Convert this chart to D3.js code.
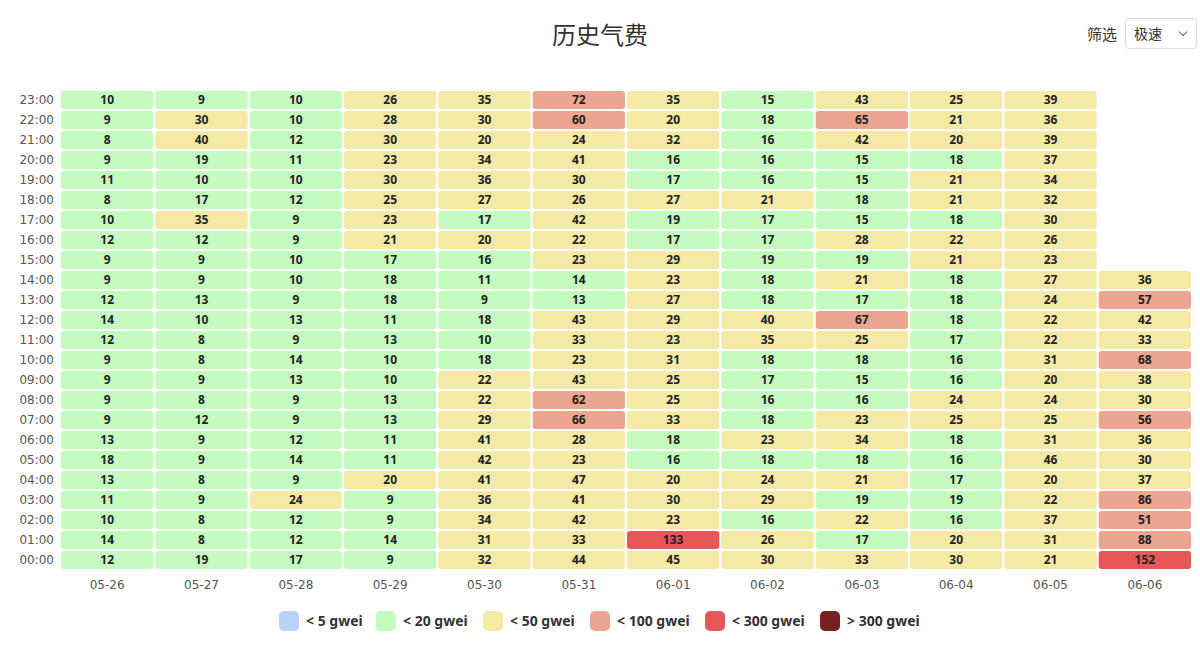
<!DOCTYPE html>
<html>
<head>
<meta charset="utf-8">
<script src="https://d3js.org/d3.v7.min.js"></script>
<style>
    body { margin: 0; background: #fff; font-family: "Noto Sans CJK SC", "Noto Sans", sans-serif; }
    .filter { position: absolute; left: 1087px; top: 18px; font-size: 15px; color: #333; display: flex; align-items: center; }
    .filter .box { margin-left: 8px; width: 72px; height: 31px; border: 1px solid #ddd; border-radius: 4px; box-sizing: border-box;
        font-size: 14px; line-height: 29px; padding-left: 8px; position: relative; }
    .filter .box:after { content: ""; position: absolute; right: 10px; top: 10px; width: 5px; height: 5px;
        border-right: 1px solid #666; border-bottom: 1px solid #666; transform: rotate(45deg); }
</style>
</head>
<body>
<div class="filter">筛选<div class="box">极速</div></div>
<div id="chart"></div>
<script>
var days = ["05-26","05-27","05-28","05-29","05-30","05-31","06-01","06-02","06-03","06-04","06-05","06-06"];
var hours = ["00:00","01:00","02:00","03:00","04:00","05:00","06:00","07:00","08:00","09:00","10:00","11:00",
             "12:00","13:00","14:00","15:00","16:00","17:00","18:00","19:00","20:00","21:00","22:00","23:00"];
// one row per hour, 00:00 first; columns follow days
var gas = [
    [12,19,17,9,32,44,45,30,33,30,21,152],
    [14,8,12,14,31,33,133,26,17,20,31,88],
    [10,8,12,9,34,42,23,16,22,16,37,51],
    [11,9,24,9,36,41,30,29,19,19,22,86],
    [13,8,9,20,41,47,20,24,21,17,20,37],
    [18,9,14,11,42,23,16,18,18,16,46,30],
    [13,9,12,11,41,28,18,23,34,18,31,36],
    [9,12,9,13,29,66,33,18,23,25,25,56],
    [9,8,9,13,22,62,25,16,16,24,24,30],
    [9,9,13,10,22,43,25,17,15,16,20,38],
    [9,8,14,10,18,23,31,18,18,16,31,68],
    [12,8,9,13,10,33,23,35,25,17,22,33],
    [14,10,13,11,18,43,29,40,67,18,22,42],
    [12,13,9,18,9,13,27,18,17,18,24,57],
    [9,9,10,18,11,14,23,18,21,18,27,36],
    [9,9,10,17,16,23,29,19,19,21,23,null],
    [12,12,9,21,20,22,17,17,28,22,26,null],
    [10,35,9,23,17,42,19,17,15,18,30,null],
    [8,17,12,25,27,26,27,21,18,21,32,null],
    [11,10,10,30,36,30,17,16,15,21,34,null],
    [9,19,11,23,34,41,16,16,15,18,37,null],
    [8,40,12,30,20,24,32,16,42,20,39,null],
    [9,30,10,28,30,60,20,18,65,21,36,null],
    [10,9,10,26,35,72,35,15,43,25,39,null]
];
var levels = [5, 20, 50, 100, 300];
var levelColors = ["#b8d3fb", "#c4fcc0", "#f5e9a6", "#eca590", "#e65757", "#78201f"];
var legendLabels = ["< 5 gwei", "< 20 gwei", "< 50 gwei", "< 100 gwei", "< 300 gwei", "> 300 gwei"];

var width = 1200, height = 653;
var plotLeft = 60, plotRight = 1192, plotTop = 90, plotBottom = 570;
var svg = d3.select("#chart").append("svg").attr("width", width).attr("height", height);

svg.append("text").attr("x", 600).attr("y", 44).attr("text-anchor", "middle")
    .attr("font-size", 24).attr("fill", "#333").text("历史气费");

var x = d3.scaleBand().domain(days).range([plotLeft, plotRight]);
var y = d3.scaleBand().domain(hours).range([plotBottom, plotTop]);
var color = d3.scaleThreshold().domain(levels).range(levelColors);

var cells = [];
gas.forEach(function(row, i) {
    row.forEach(function(v, j) {
        if (v != null) cells.push({ day: days[j], hour: hours[i], v: v });
    });
});

var g = svg.append("g");
g.selectAll("rect").data(cells).enter().append("rect")
    .attr("x", function(d) { return x(d.day) + 1; })
    .attr("y", function(d) { return y(d.hour) + 1; })
    .attr("width", x.bandwidth() - 2)
    .attr("height", y.bandwidth() - 2)
    .attr("rx", 3)
    .attr("fill", function(d) { return color(d.v); });
g.selectAll("text").data(cells).enter().append("text")
    .attr("x", function(d) { return x(d.day) + x.bandwidth() / 2; })
    .attr("y", function(d) { return y(d.hour) + y.bandwidth() / 2 + 4; })
    .attr("text-anchor", "middle").attr("font-size", 12).attr("font-weight", "bold")
    .attr("font-family", "Noto Sans, sans-serif")
    .attr("fill", "#222").text(function(d) { return d.v; });

var xAxis = svg.append("g").attr("transform", "translate(0," + (plotBottom + 4) + ")")
    .call(d3.axisBottom(x).tickSize(0).tickPadding(6));
var yAxis = svg.append("g").attr("transform", "translate(" + (plotLeft - 4) + ",0)")
    .call(d3.axisLeft(y).tickSize(0).tickPadding(2));
[xAxis, yAxis].forEach(function(a) {
    a.select(".domain").remove();
    a.selectAll("text").attr("font-size", 12).attr("fill", "#555").attr("font-family", "DejaVu Sans, sans-serif");
});

// legend
var legendX = [279, 376, 483, 590, 705, 820];
var lg = svg.append("g").selectAll("g").data(legendLabels).enter().append("g")
    .attr("transform", function(d, i) { return "translate(" + legendX[i] + ",611)"; });
lg.append("rect").attr("width", 20).attr("height", 20).attr("rx", 5)
    .attr("fill", function(d, i) { return levelColors[i]; });
lg.append("text").attr("x", 27).attr("y", 15).attr("font-size", 14).attr("font-weight", "bold")
    .attr("font-family", "Noto Sans, sans-serif").attr("fill", "#333").text(function(d) { return d; });
</script>
</body>
</html>
